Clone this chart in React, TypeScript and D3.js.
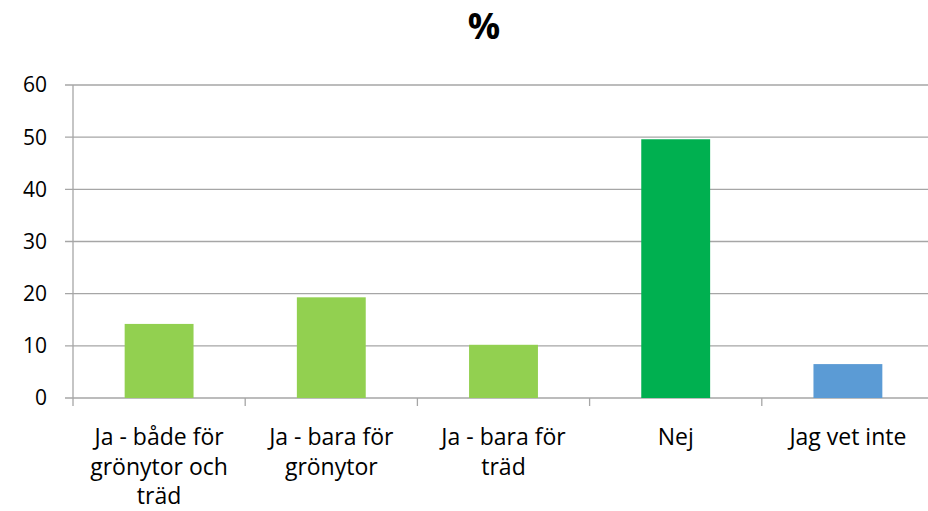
import * as d3 from "d3";
import {useEffect, useRef} from "react";

// chart data
const categories = [
  ["Ja - både för", "grönytor och", "träd"],
  ["Ja - bara för", "grönytor"],
  ["Ja - bara för", "träd"],
  ["Nej"],
  ["Jag vet inte"]
];
const values = [14.2, 19.3, 10.2, 49.6, 6.5];
const barColors = ["#92D050", "#92D050", "#92D050", "#00B050", "#5B9BD5"];
const yTicks = [0, 10, 20, 30, 40, 50, 60];
const title = "%";

function App() {
  const ref = useRef<SVGSVGElement>(null);

  useEffect(() => {
    const width = 928;
    const height = 511;
    const margin = {top: 85, right: -6, bottom: 113, left: 73};
    const font = "Open Sans, sans-serif";
    const grid = "#A6A6A6";

    const svg = d3.select(ref.current);
    svg.selectAll("*").remove();

    const x = d3.scaleBand<number>()
      .domain(values.map((_, i) => i))
      .range([margin.left, width - margin.right])
      .paddingInner(0.6)
      .paddingOuter(0.3);
    const band = (width - margin.right - margin.left) / values.length;

    const y = d3.scaleLinear()
      .domain([0, 60])
      .range([height - margin.bottom, margin.top]);

    // title
    svg.append("text")
      .attr("x", 484)
      .attr("y", 39)
      .attr("text-anchor", "middle")
      .style("font-family", font)
      .style("font-weight", "bold")
      .style("font-size", "36px")
      .text(title);

    // gridlines and y ticks
    svg.append("g")
      .selectAll("line")
      .data(yTicks)
      .enter()
      .append("line")
        .attr("x1", margin.left - 8)
        .attr("x2", width - margin.right)
        .attr("y1", d => y(d))
        .attr("y2", d => y(d))
        .attr("stroke", grid)
        .attr("stroke-width", 1.3);

    svg.append("g")
      .selectAll("text")
      .data(yTicks)
      .enter()
      .append("text")
        .attr("x", margin.left - 26)
        .attr("y", d => y(d))
        .attr("dy", "0.35em")
        .attr("text-anchor", "end")
        .style("font-family", font)
        .style("font-size", "21px")
        .text(d => d);

    // y axis line
    svg.append("line")
      .attr("x1", margin.left)
      .attr("x2", margin.left)
      .attr("y1", y(60))
      .attr("y2", y(0) + 8)
      .attr("stroke", grid)
      .attr("stroke-width", 1.3);

    // category ticks
    svg.append("g")
      .selectAll("line")
      .data(d3.range(1, values.length + 1))
      .enter()
      .append("line")
        .attr("x1", d => margin.left + d * band)
        .attr("x2", d => margin.left + d * band)
        .attr("y1", y(0))
        .attr("y2", y(0) + 8)
        .attr("stroke", grid)
        .attr("stroke-width", 1.3);

    // bars
    svg.append("g")
      .selectAll("rect")
      .data(values)
      .enter()
      .append("rect")
        .attr("x", (d, i) => x(i)!)
        .attr("width", x.bandwidth())
        .attr("y", d => y(d))
        .attr("height", d => y(0) - y(d))
        .attr("fill", (d, i) => barColors[i]);

    // category labels
    const labels = svg.append("g")
      .selectAll("text")
      .data(categories)
      .enter()
      .append("text")
        .attr("x", (d, i) => x(i)! + x.bandwidth() / 2)
        .attr("y", 445)
        .attr("text-anchor", "middle")
        .style("font-family", font)
        .style("font-size", "23px");
    labels.selectAll("tspan")
      .data(d => d)
      .enter()
      .append("tspan")
        .attr("x", function() { return (this.parentNode as SVGTextElement).getAttribute("x"); })
        .attr("dy", (d, i) => i === 0 ? 0 : 29.5)
        .text(d => d);
  }, []);

  return (
    <svg ref={ref} width={928} height={511} style={{position: "absolute", left: 0, top: 0}}></svg>
  );
}

export default App;
